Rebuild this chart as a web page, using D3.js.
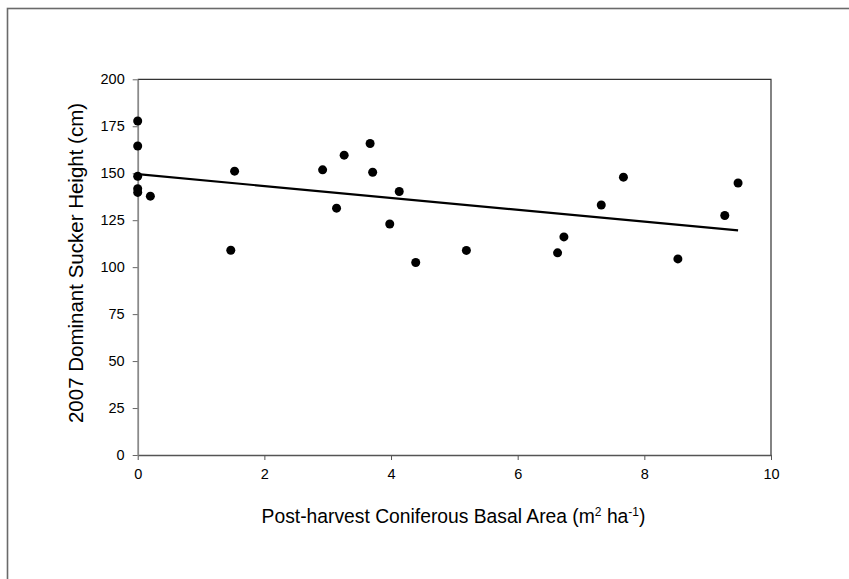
<!DOCTYPE html>
<html>
<head>
<meta charset="utf-8">
<script src="https://cdn.jsdelivr.net/npm/d3@7"></script>
<style>
  html, body { margin: 0; padding: 0; background: #fff; }
  svg { display: block; }
  text { font-family: "Liberation Sans", Arial, sans-serif; fill: #000; }
</style>
</head>
<body>
<svg id="chart" width="849" height="579"></svg>
<script>
// Post-harvest coniferous basal area (m2/ha) per plot
const basalArea = [0, 0, 0, 0, 0, 0.2, 1.47, 1.53, 2.92, 3.14, 3.26, 3.67, 3.71, 3.98, 4.13, 4.39,
                   5.19, 6.63, 6.73, 7.32, 7.67, 8.53, 9.27, 9.48];
// 2007 dominant sucker height (cm) per plot
const suckerHeight = [177.8, 164.5, 148.4, 141.8, 139.8, 137.8, 109.0, 151.1, 151.8, 131.4, 159.6, 165.8, 150.5, 123.0, 140.3, 102.5,
                      108.9, 107.6, 116.1, 133.1, 147.9, 104.4, 127.5, 144.8];
// Fitted linear trend: height = intercept + slope * basal area
const trendIntercept = 149.5;
const trendSlope = -3.16;
const xTicks = [0, 2, 4, 6, 8, 10];
const yTicks = [0, 25, 50, 75, 100, 125, 150, 175, 200];

const svg = d3.select("#chart");
const plotLeft = 137.7, plotRight = 771, plotTop = 79.3, plotBottom = 455;

const x = d3.scaleLinear().domain([0, 10]).range([plotLeft, plotRight]);
const y = d3.scaleLinear().domain([0, 200]).range([plotBottom, plotTop]);

// Outer figure border (right/bottom edges fall outside the view)
svg.append("rect")
  .attr("x", 7.5).attr("y", 8.5)
  .attr("width", 1000).attr("height", 1000)
  .attr("fill", "none").attr("stroke", "#6a6a6a").attr("stroke-width", 1.6);

// Plot frame: top and right edges
svg.append("path")
  .attr("d", `M${plotLeft},${plotTop}H${plotRight}V${plotBottom}`)
  .attr("fill", "none").attr("stroke", "#333").attr("stroke-width", 1.2);

// X axis
const xAxis = svg.append("g")
  .attr("transform", `translate(0,${plotBottom})`)
  .call(d3.axisBottom(x).tickValues(xTicks).tickSize(5).tickSizeOuter(0).tickPadding(9));
xAxis.select(".domain").attr("stroke", "#555").attr("stroke-width", 1.4);
xAxis.selectAll(".tick line").attr("stroke", "#555");
xAxis.selectAll("text").style("font-size", "14.5px").attr("fill", "#000");

// Y axis
const yAxis = svg.append("g")
  .attr("transform", `translate(${plotLeft},0)`)
  .call(d3.axisLeft(y).tickValues(yTicks).tickSize(5).tickSizeOuter(0).tickPadding(8));
yAxis.select(".domain").attr("stroke", "#8a8a8a").attr("stroke-width", 1.8);
yAxis.selectAll(".tick line").attr("stroke", "#666");
yAxis.selectAll("text").style("font-size", "14.5px").attr("fill", "#000");

// Regression line across the observed range
const xMax = d3.max(basalArea);
const line = d3.line().x(d => x(d[0])).y(d => y(d[1]));
svg.append("path")
  .datum([[0, trendIntercept], [xMax, trendIntercept + trendSlope * xMax]])
  .attr("d", line)
  .attr("fill", "none").attr("stroke", "#000").attr("stroke-width", 2.2);

// Points
svg.append("g").selectAll("circle")
  .data(basalArea.map((b, i) => [b, suckerHeight[i]]))
  .join("circle")
  .attr("cx", d => x(d[0]))
  .attr("cy", d => y(d[1]))
  .attr("r", 4.5)
  .attr("fill", "#000");

// Axis titles
const xTitle = svg.append("text")
  .attr("x", 453.5).attr("y", 523)
  .attr("text-anchor", "middle")
  .style("font-size", "19.3px");
xTitle.append("tspan").text("Post-harvest Coniferous Basal Area (m");
xTitle.append("tspan").attr("dy", -7.5).style("font-size", "12px").text("2");
xTitle.append("tspan").attr("dy", 7.5).text(" ha");
xTitle.append("tspan").attr("dy", -7.5).style("font-size", "12px").text("-1");
xTitle.append("tspan").attr("dy", 7.5).text(")");

svg.append("text")
  .attr("transform", "translate(82.5,263) rotate(-90)")
  .attr("text-anchor", "middle")
  .style("font-size", "20.5px")
  .text("2007 Dominant Sucker Height (cm)");
</script>
</body>
</html>
